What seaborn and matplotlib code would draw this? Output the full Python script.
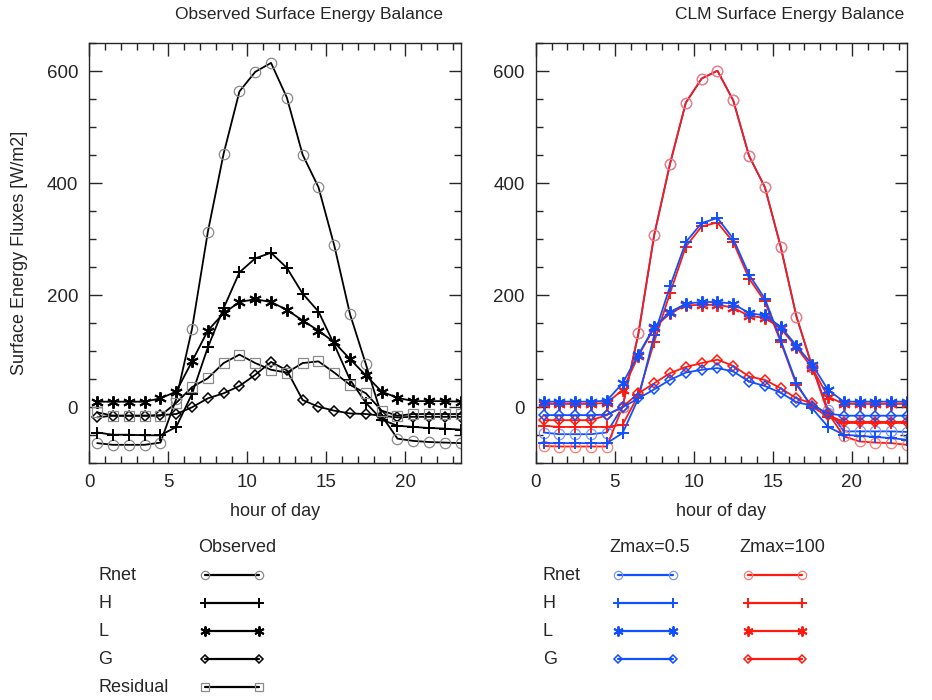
"""Observed vs CLM surface energy balance, diurnal composite (IDL-style two panels)."""

import matplotlib
matplotlib.use("Agg")
import matplotlib.pyplot as plt
import seaborn as sns
from matplotlib.ticker import MultipleLocator

hours = [0.5, 1.5, 2.5, 3.5, 4.5, 5.5, 6.5, 7.5, 8.5, 9.5, 10.5, 11.5,
         12.5, 13.5, 14.5, 15.5, 16.5, 17.5, 18.5, 19.5, 20.5, 21.5, 22.5, 23.5]

# observed fluxes [W/m2]
obs_rnet = [-64, -67, -67, -67, -63, 15, 140, 313, 453, 564, 599, 615,
            553, 451, 393, 289, 166, 77, -15, -56, -60, -62, -63, -64]
obs_h = [-45, -49, -49, -50, -50, -35, 24, 107, 177, 241, 266, 276,
         249, 203, 171, 112, 49, 8, -22, -33, -35, -37, -38, -40]
obs_l = [10, 10, 10, 10, 16, 28, 82, 137, 168, 188, 193, 188,
         174, 155, 137, 116, 86, 57, 28, 17, 11, 11, 11, 10]
obs_g = [-18, -15, -15, -15, -14, -12, 0, 16, 25, 38, 58, 81,
         66, 13, 1, -6, -11, -12, -15, -18, -17, -17, -17, -17]
obs_res = [-9, -15, -15, -15, -15, 8, 36, 52, 79, 94, 79, 67,
           62, 79, 82, 62, 40, 25, -6, -15, -12, -12, -12, -12]

# CLM, Zmax=0.5
z05_rnet = [-45, -48, -48, -48, -45, 1, 132, 308, 435, 544, 587, 601,
            548, 449, 393, 287, 162, 72, -5, -43, -43, -43, -43, -44]
z05_h = [-64, -64, -64, -64, -64, -46, 16, 129, 216, 295, 329, 338,
         301, 237, 194, 120, 43, -2, -35, -49, -51, -53, -55, -58]
z05_l = [10, 10, 10, 10, 12, 43, 94, 144, 170, 185, 188, 188,
         185, 168, 164, 144, 110, 76, 31, 10, 10, 10, 10, 10]
z05_g = [-14, -14, -14, -14, -13, 0, 16, 32, 49, 62, 67, 70,
         64, 46, 38, 26, 9, 3, -11, -15, -15, -15, -15, -15]

# CLM, Zmax=100
z100_rnet = [-69, -70, -70, -70, -70, 1, 132, 308, 435, 544, 587, 601,
             548, 449, 393, 287, 162, 72, -10, -52, -61, -63, -64, -67]
z100_h = [-33, -35, -35, -35, -35, -31, 22, 117, 204, 287, 323, 330,
          295, 230, 189, 117, 40, 1, -17, -28, -28, -28, -28, -28]
z100_l = [6, 6, 6, 6, 8, 31, 92, 142, 168, 182, 183, 183,
          178, 163, 160, 141, 107, 70, 19, 6, 6, 6, 6, 6]
z100_g = [-23, -23, -23, -23, -14, 1, 25, 43, 61, 72, 79, 85,
          74, 55, 49, 34, 16, 7, -14, -26, -26, -26, -26, -26]

BLUE, BLUE_LT = "#1050ff", "#7a96ff"
RED, RED_LT = "#ff1a10", "#ff7a72"
GREY = "#8a8a8a"
AST = (6, 2, 0)
# per-variable marker styles: (marker, size, edge width)
STYLE = {
    "Rnet": ("o", 7.5, 0.9),
    "H": ("+", 8.5, 1.4),
    "L": (AST, 9, 1.4),
    "G": ("D", 5.5, 1.1),
    "Residual": ("s", 7.5, 0.9),
}

sns.set_style("ticks")
plt.rcParams["font.family"] = ["Liberation Sans", "DejaVu Sans"]
plt.rcParams["font.size"] = 13

fig = plt.figure(figsize=(9.32, 7.0), dpi=100)
ax_obs = fig.add_axes([89.3 / 932, 236.7 / 700, 371.4 / 932, 420 / 700])
ax_clm = fig.add_axes([535.7 / 932, 236.7 / 700, 371.4 / 932, 420 / 700])


def draw(ax, y, name, color, mcolor):
    m, ms, mew = STYLE[name]
    sns.lineplot(x=hours, y=y, ax=ax, color=color, lw=1.3, marker=m, ms=ms,
                 mew=mew, mec=mcolor, mfc="none", errorbar=None)


draw(ax_obs, obs_rnet, "Rnet", "black", GREY)
draw(ax_obs, obs_h, "H", "black", "black")
draw(ax_obs, obs_l, "L", "black", "black")
draw(ax_obs, obs_g, "G", "black", "black")
draw(ax_obs, obs_res, "Residual", "black", GREY)

draw(ax_clm, z05_rnet, "Rnet", BLUE, BLUE_LT)
draw(ax_clm, z100_rnet, "Rnet", RED, RED_LT)
draw(ax_clm, z100_h, "H", RED, RED)
draw(ax_clm, z05_h, "H", BLUE, BLUE)
draw(ax_clm, z100_l, "L", RED, RED)
draw(ax_clm, z05_l, "L", BLUE, BLUE)
draw(ax_clm, z100_g, "G", RED, RED)
draw(ax_clm, z05_g, "G", BLUE, BLUE)

for ax in (ax_obs, ax_clm):
    ax.set_xlim(0, 23.5)
    ax.set_ylim(-100, 650)
    ax.xaxis.set_major_locator(MultipleLocator(5))
    ax.xaxis.set_minor_locator(MultipleLocator(1))
    ax.yaxis.set_major_locator(MultipleLocator(200))
    ax.yaxis.set_minor_locator(MultipleLocator(50))
    ax.tick_params(which="both", direction="in", top=True, right=True,
                   width=1, labelsize=13.5, pad=8)
    ax.tick_params(which="major", length=9)
    ax.tick_params(which="minor", length=5)
    for sp in ax.spines.values():
        sp.set_linewidth(1)
    ax.set_xlabel("")
    ax.set_ylabel("")

fig.text(309 / 932, 1 - 14 / 700, "Observed Surface Energy Balance",
         ha="center", va="center", fontsize=12.5)
fig.text(790 / 932, 1 - 14 / 700, "CLM Surface Energy Balance",
         ha="center", va="center", fontsize=12.5)
fig.text(275 / 932, 1 - 512 / 700, "hour of day", ha="center", va="center")
fig.text(721 / 932, 1 - 512 / 700, "hour of day", ha="center", va="center")
fig.text(20 / 932, 1 - 253 / 700, "Surface Energy Fluxes [W/m2]",
         ha="center", va="center", rotation=90)

# hand-made legend in pixel coordinates, like the IDL original
leg = fig.add_axes([0, 0, 1, 1], zorder=-1)
leg.set_xlim(0, 932)
leg.set_ylim(700, 0)
leg.axis("off")
rows_y = [575, 603, 631, 659, 687]


def sample(x0, x1, y, name, color, mcolor):
    m, ms, mew = STYLE[name]
    leg.plot([x0, x1], [y, y], color=color, lw=1.6, marker=m, ms=ms * 0.8,
             mew=mew, mec=mcolor, mfc="none")


leg.text(237, 547, "Observed", ha="center", va="center")
for name, y in zip(["Rnet", "H", "L", "G", "Residual"], rows_y):
    leg.text(98, y, name, ha="left", va="center")
    mc = GREY if name in ("Rnet", "Residual") else "black"
    sample(205, 259, y, name, "black", mc)

leg.text(650, 547, "Zmax=0.5", ha="center", va="center")
leg.text(782, 547, "Zmax=100", ha="center", va="center")
for name, y in zip(["Rnet", "H", "L", "G"], rows_y):
    leg.text(543, y, name, ha="left", va="center")
    sample(618, 673, y, name, BLUE, BLUE_LT if name == "Rnet" else BLUE)
    sample(748, 802, y, name, RED, RED_LT if name == "Rnet" else RED)

fig.savefig("out.png", dpi=100)
